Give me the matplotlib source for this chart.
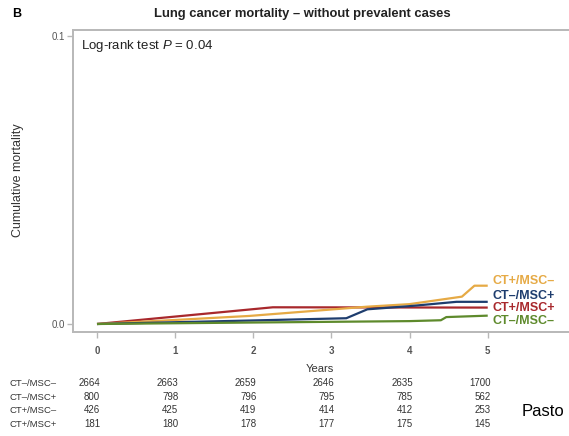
import matplotlib
matplotlib.use("Agg")
import matplotlib.pyplot as plt
from matplotlib.transforms import blended_transform_factory

plt.rcParams['font.family'] = ['Liberation Sans', 'DejaVu Sans']
plt.rcParams['mathtext.fontset'] = 'custom'
plt.rcParams['mathtext.it'] = 'Liberation Sans:italic'
plt.rcParams['mathtext.rm'] = 'Liberation Sans'

# curvas (anos, mortalidade acumulada)
t_ctp_mscm = [0, 1.0, 1.95, 3.45, 4.0, 4.67, 4.83, 5.0]
y_ctp_mscm = [0, 0.0014, 0.0028, 0.0060, 0.0069, 0.0095, 0.0133, 0.0133]
t_ctm_mscp = [0, 1.95, 3.19, 3.46, 4.0, 4.6, 5.0]
y_ctm_mscp = [0, 0.0012, 0.0020, 0.0051, 0.0062, 0.0077, 0.0077]
t_ctp_mscp = [0, 2.25, 5.0]
y_ctp_mscp = [0, 0.0058, 0.0057]
t_ctm_mscm = [0, 1.95, 4.0, 4.4, 4.47, 5.0]
y_ctm_mscm = [0, 0.0005, 0.0010, 0.0013, 0.0024, 0.0029]

grupos = ['CT+/MSC\u2013', 'CT\u2013/MSC+', 'CT+/MSC+', 'CT\u2013/MSC\u2013']
cores = ['#E6AA45', '#1E3D6E', '#A8282C', '#5E8A2C']
label_y = [0.0149, 0.0097, 0.0056, 0.0011]

# numero em risco
anos = [0, 1, 2, 3, 4, 5]
risco_nomes = ['CT\u2013/MSC\u2013', 'CT\u2013/MSC+', 'CT+/MSC\u2013', 'CT+/MSC+']
risco = [[2664, 2663, 2659, 2646, 2635, 1700],
         [800, 798, 796, 795, 785, 562],
         [426, 425, 419, 414, 412, 253],
         [181, 180, 178, 177, 175, 145]]

fig = plt.figure(figsize=(5.69, 4.36), dpi=100)
ax = fig.add_axes([73/569, 1-332/436, 1-73/569, (332-30)/436])

curvas = [(t_ctp_mscm, y_ctp_mscm), (t_ctm_mscp, y_ctm_mscp),
          (t_ctp_mscp, y_ctp_mscp), (t_ctm_mscm, y_ctm_mscm)]
# ordem de desenho: vermelho por baixo
for i in [2, 0, 1, 3]:
    t, y = curvas[i]
    ax.plot(t, y, color=cores[i], lw=1.6, solid_capstyle='butt', zorder=3)
for i in range(4):
    ax.text(5.06, label_y[i], grupos[i], color=cores[i], fontsize=9,
            fontweight='bold', va='center', ha='left')

ax.set_xlim(-0.307, 6.04)
ax.set_ylim(-0.00278, 0.1021)
ax.set_xticks(anos)
ax.set_yticks([0.0, 0.1])
ax.set_yticklabels(['0.0', '0.1'])
for s in ['left', 'top', 'bottom']:
    ax.spines[s].set_color('#b8b8b8')
    ax.spines[s].set_linewidth(1.4)
ax.spines['right'].set_visible(False)
ax.tick_params(axis='both', colors='#b8b8b8', length=4, width=1)
for lab in ax.get_xticklabels():
    lab.set_color('#555555'); lab.set_fontsize(7); lab.set_fontweight('bold')
for lab in ax.get_yticklabels():
    lab.set_color('#555555'); lab.set_fontsize(7)
ax.tick_params(axis='x', pad=6)
ax.tick_params(axis='y', pad=2)

ax.text(0.016, 0.0965, 'Log-rank test $P$ = 0.04', fontsize=9.5, color='#222222',
        transform=blended_transform_factory(ax.transAxes, ax.transData), va='center')

fig.text(12/569, 1-14/436, 'B', fontsize=9, fontweight='bold', va='center')
fig.text(302/569, 1-14/436, 'Lung cancer mortality \u2013 without prevalent cases',
         fontsize=9.4, fontweight='bold', ha='center', va='center', color='#222222')
fig.text(18/569, 1-180/436, 'Cumulative mortality', rotation=90, fontsize=9,
         color='#333333', ha='center', va='center')
fig.text(320/569, 1-369/436, 'Years', fontsize=8, color='#333333', ha='center', va='center')

tr = blended_transform_factory(ax.transData, fig.transFigure)
linhas_y = [383, 397, 410, 424]
for r in range(4):
    fig.text(10/569, 1-linhas_y[r]/436, risco_nomes[r], fontsize=6.8,
             color='#333333', va='center')
    for j, a in enumerate(anos):
        ax.text(a + 0.04, 1-linhas_y[r]/436, str(risco[r][j]), transform=tr,
                fontsize=7, color='#333333', ha='right', va='center', clip_on=False)

fig.text(522/569, 1-411/436, 'Pasto', fontsize=12, color='black', va='center')

fig.savefig('out.png', dpi=100)
